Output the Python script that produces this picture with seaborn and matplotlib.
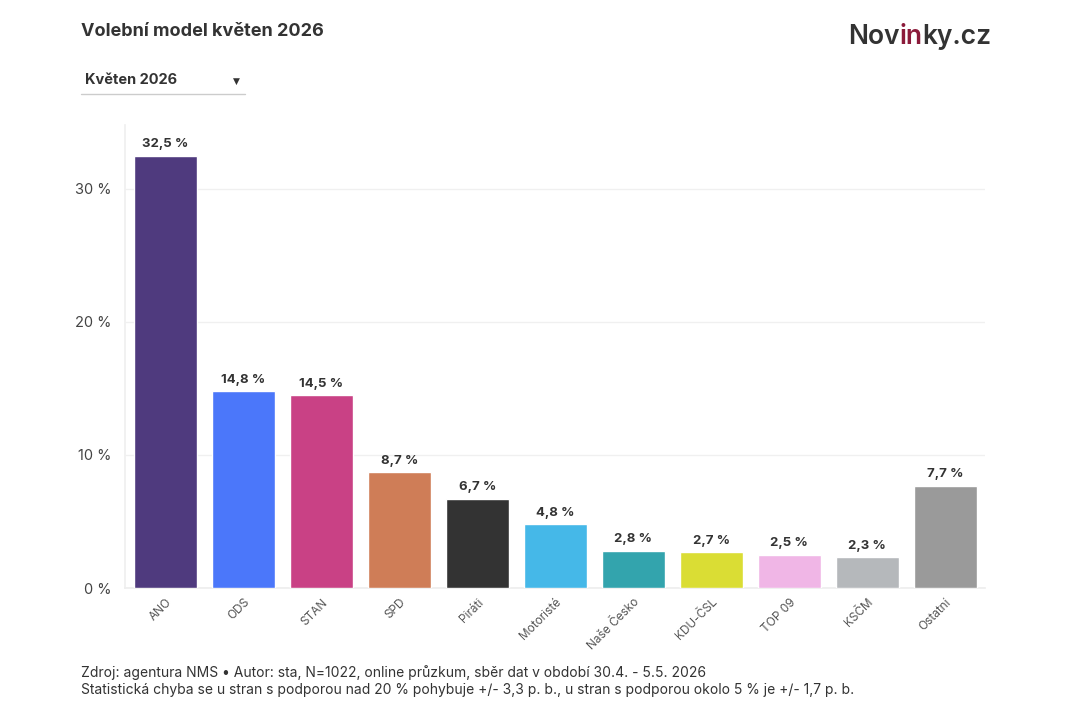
import matplotlib
matplotlib.use("Agg")
import matplotlib.pyplot as plt
import seaborn as sns
import pandas as pd

parties = ["ANO", "ODS", "STAN", "SPD", "Piráti", "Motoristé", "Naše Česko",
           "KDU-ČSL", "TOP 09", "KSČM", "Ostatní"]
values = [32.5, 14.8, 14.5, 8.7, 6.7, 4.8, 2.8, 2.7, 2.5, 2.3, 7.7]
colors = ["#4f3a7e", "#4b77fa", "#c94185", "#cf7d57", "#333333", "#45b8e8",
          "#33a4ad", "#dadd34", "#f0b6e6", "#b5b8bb", "#9a9a9a"]
yticks = [0, 10, 20, 30]

title = "Volební model květen 2026"
dropdown = "Květen 2026"
footer1 = "Zdroj: agentura NMS • Autor: sta, N=1022, online průzkum, sběr dat v období 30.4. - 5.5. 2026"
footer2 = "Statistická chyba se u stran s podporou nad 20 % pohybuje +/- 3,3 p. b., u stran s podporou okolo 5 % je +/- 1,7 p. b."

sns.set_theme(style="white")
plt.rcParams['font.family'] = ['Inter', 'DejaVu Sans']

df = pd.DataFrame({"party": parties, "value": values})

fig = plt.figure(figsize=(10.8, 7.2), dpi=100)
ax = fig.add_axes([125/1080, 1-588/720, 860/1080, 463/720])

sns.barplot(data=df, x="party", y="value", hue="party", palette=colors,
            legend=False, ax=ax, width=0.81, saturation=1, zorder=3)

ax.set_xlim(-0.52, 10.51)
ax.set_ylim(0, 34.8)
ax.set_yticks(yticks)
ax.set_yticklabels([f"{t} %" for t in yticks], fontsize=10.5, color="#444444")
ax.tick_params(axis='y', length=0, pad=10)
ax.tick_params(axis='x', length=0, pad=6)
ax.set_xticks(range(len(parties)))
ax.set_xticklabels(parties, rotation=45, ha='right', rotation_mode='anchor',
                   fontsize=8.5, color="#555555")
ax.set_xlabel("")
ax.set_ylabel("")
ax.grid(axis='y', color="#f0f0f0", linewidth=1, zorder=0)
for s in ["top", "right"]:
    ax.spines[s].set_visible(False)
ax.spines["left"].set_color("#f0f0f0")
ax.spines["bottom"].set_color("#eeeeee")

for i, v in enumerate(values):
    ax.annotate(f"{v:.1f} %".replace(".", ","), (i, v), xytext=(0, 4),
                textcoords="offset points", ha="center", va="bottom",
                fontsize=9.5, fontweight="bold", color="#333333")

fig.text(81/1080, 1-31/720, title, fontsize=13, fontweight="bold",
         color="#333333", va="center", ha="left")
fig.text(85/1080, 1-80/720, dropdown, fontsize=10.5, fontweight="bold",
         color="#333333", va="center", ha="left")
fig.text(236/1080, 1-81/720, "▼", fontsize=6.5, color="#333333",
         va="center", ha="center", family=['DejaVu Sans'])
fig.add_artist(plt.Line2D([81/1080, 245/1080], [1-94/720, 1-94/720],
                          color="#cccccc", linewidth=1))

# logo
fig.canvas.draw()
renderer = fig.canvas.get_renderer()
x = 848
parts = [("Nov", "#333333"), ("in", "#8b1a3a"), ("ky.cz", "#333333")]
for txt, col in parts:
    t = fig.text(x/1080, 1-37/720, txt, fontsize=19, fontweight="semibold",
                 color=col, va="center", ha="left")
    bb = t.get_window_extent(renderer)
    x += bb.width

fig.text(81/1080, 1-673/720, footer1, fontsize=10.0, color="#333333",
         va="center", ha="left")
fig.text(81/1080, 1-690/720, footer2, fontsize=10.0, color="#333333",
         va="center", ha="left")

fig.savefig("out.png", dpi=100, facecolor="white")
